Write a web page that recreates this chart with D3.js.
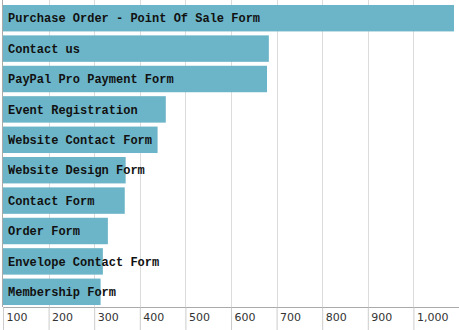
<!DOCTYPE html>
<html><head><meta charset="utf-8">
<script src="https://cdn.jsdelivr.net/npm/d3@7"></script>
<style>body{margin:0;background:#fff}svg{display:block}</style>
</head><body>
<script>
const categories = ["Purchase Order - Point Of Sale Form","Contact us","PayPal Pro Payment Form","Event Registration","Website Contact Form","Website Design Form","Contact Form","Order Form","Envelope Contact Form","Membership Form"];
const values = [1089, 683, 679, 457, 439, 369, 367, 330, 319, 314];
const tickValues = [100,200,300,400,500,600,700,800,900,1000];

const W = 459, H = 330;
const m = {left:3, right:0, top:3, bottom:23};
const svg = d3.select("body").append("svg").attr("width", W).attr("height", H);
const x = d3.scaleLinear().domain([100, 1100]).range([m.left, W - m.right]);
const y = d3.scaleBand().domain(categories).range([m.top, H - m.bottom]).paddingInner(0.13).paddingOuter(0.065);

// gridlines
svg.append("g").selectAll("line").data(tickValues.slice(1)).join("line")
  .attr("x1", d => Math.round(x(d)) + 0.5).attr("x2", d => Math.round(x(d)) + 0.5)
  .attr("y1", 0).attr("y2", H - m.bottom)
  .attr("stroke", "#dcdcdc");

// bars
svg.append("g").selectAll("rect").data(categories).join("rect")
  .attr("x", x(100)).attr("y", d => y(d))
  .attr("width", (d, i) => x(values[i]) - x(100))
  .attr("height", y.bandwidth())
  .attr("fill", "#6cb5c8");

// labels
svg.append("g").selectAll("text").data(categories).join("text")
  .attr("x", 8).attr("y", d => y(d) + y.bandwidth() / 2)
  .attr("dy", "0.35em")
  .attr("font-family", "'Liberation Mono', 'Courier New', monospace")
  .attr("font-weight", "bold")
  .attr("font-size", 12)
  .attr("fill", "#111")
  .text(d => d);

// x axis
const ax = svg.append("g").attr("transform", `translate(0,${H - m.bottom + 0.5})`)
  .call(d3.axisBottom(x).tickValues(tickValues).tickSize(m.bottom).tickFormat(d3.format(",")));
ax.select(".domain").attr("stroke", "#aaa").attr("d", `M${m.left},0H${W}`);
ax.selectAll(".tick line").attr("stroke", "#ccc");
ax.selectAll(".tick text")
  .attr("text-anchor", "start").attr("x", 3).attr("y", 10).attr("dy", "0.35em")
  .attr("font-family", "'DejaVu Sans', Verdana, sans-serif").attr("font-size", 11).attr("fill", "#333");

// left axis line
svg.append("line").attr("x1", m.left - 0.5).attr("x2", m.left - 0.5).attr("y1", 0).attr("y2", H - m.bottom)
  .attr("stroke", "#aaa");
</script>
</body></html>
